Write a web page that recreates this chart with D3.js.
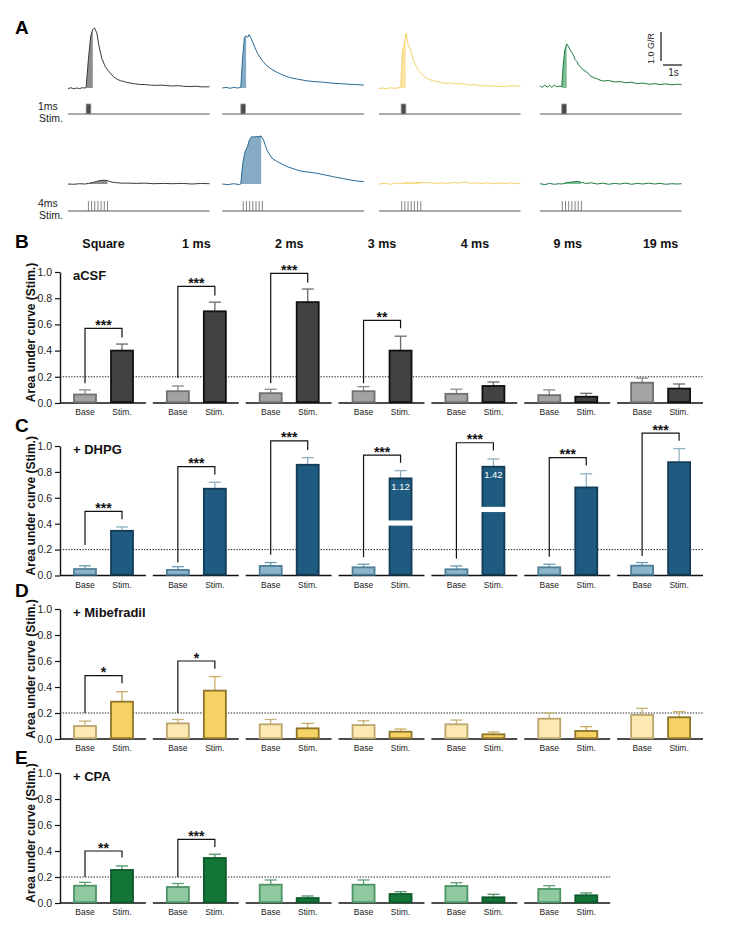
<!DOCTYPE html>
<html><head><meta charset="utf-8">
<script src="https://cdn.jsdelivr.net/npm/d3@7"></script>
<style>body{margin:0;background:#fff}svg text{font-family:"Liberation Sans",Arial,Helvetica,sans-serif}</style>
</head><body><svg id="fig" width="738" height="925"></svg>
<script>
// ---------------- DATA ----------------
const groups = ["Square","1 ms","2 ms","3 ms","4 ms","9 ms","19 ms"];
const barNames = ["Base","Stim."];
const yTicks = [0,0.2,0.4,0.6,0.8,1.0];
const conditions = ["aCSF","+ DHPG","+ Mibefradil","+ CPA"];
const panelLetters = ["B","C","D","E"];
const threshold = 0.2;

// aCSF
const acsfBase    = [0.065,0.09,0.075,0.09,0.07,0.06,0.155];
const acsfBaseSem = [0.035,0.04,0.03,0.035,0.035,0.04,0.035];
const acsfStim    = [0.40,0.70,0.77,0.40,0.13,0.048,0.11];
const acsfStimSem = [0.05,0.07,0.10,0.11,0.03,0.026,0.035];
const acsfSigGroup = [0,1,2,3];
const acsfSigLabel = ["***","***","***","**"];
const acsfSigTop   = [0.57,0.89,0.99,0.63];
const acsfSigRight = [0.50,0.82,0.92,0.57];
const acsfSigLeft  = [0.15,0.19,0.15,0.15];

// + DHPG
const dhpgBase    = [0.05,0.043,0.074,0.063,0.048,0.063,0.076];
const dhpgBaseSem = [0.025,0.025,0.026,0.024,0.026,0.024,0.024];
const dhpgStim    = [0.345,0.67,0.855,1.12,1.42,0.68,0.875];
const dhpgStimSem = [0.03,0.05,0.055,0.06,0.06,0.105,0.105];
// broken-axis bars: drawn height, and the gap of the break
const dhpgShown   = [null,null,null,0.75,0.84,null,null];
const dhpgBreakLo = [null,null,null,0.385,0.49,null,null];
const dhpgBreakHi = [null,null,null,0.425,0.53,null,null];
const dhpgSigGroup = [0,1,2,3,4,5,6];
const dhpgSigLabel = ["***","***","***","***","***","***","***"];
const dhpgSigTop   = [0.495,0.84,1.04,0.93,1.025,0.91,1.10];
const dhpgSigRight = [0.435,0.78,0.97,0.87,0.965,0.85,1.04];
const dhpgSigLeft  = [0.235,0.10,0.16,0.14,0.13,0.145,0.15];

// + Mibefradil
const mibBase    = [0.10,0.12,0.113,0.107,0.113,0.156,0.185];
const mibBaseSem = [0.038,0.03,0.037,0.033,0.033,0.044,0.051];
const mibStim    = [0.287,0.372,0.082,0.056,0.036,0.062,0.167];
const mibStimSem = [0.077,0.108,0.038,0.021,0.018,0.033,0.043];
const mibSigGroup = [0,1];
const mibSigLabel = ["*","*"];
const mibSigTop   = [0.487,0.60];
const mibSigRight = [0.428,0.54];
const mibSigLeft  = [0.20,0.20];

// + CPA (no 19 ms)
const cpaBase    = [0.133,0.123,0.141,0.141,0.131,0.108];
const cpaBaseSem = [0.026,0.027,0.036,0.036,0.025,0.025];
const cpaStim    = [0.254,0.346,0.038,0.069,0.044,0.059];
const cpaStimSem = [0.031,0.029,0.016,0.018,0.023,0.018];
const cpaSigGroup = [0,1];
const cpaSigLabel = ["**","***"];
const cpaSigTop   = [0.40,0.49];
const cpaSigRight = [0.35,0.43];
const cpaSigLeft  = [0.20,0.20];

// Panel A traces: [time (s), G/R]
const stimLabels = ["1ms","4ms"];
const trace1msACSF = [[0,-0.02],[0.15,0.01],[0.3,-0.03],[0.45,0.0],[0.6,-0.02],[0.75,0.01],[0.9,0.0],[0.95,0.02],[1.07,0.98],[1.19,1.78],[1.30,2.02],[1.39,2.07],[1.51,1.90],[1.63,1.43],[1.77,1.03],[1.95,0.74],[2.08,0.62],[2.21,0.52],[2.4,0.38],[2.56,0.31],[2.75,0.25],[2.91,0.23],[3.1,0.19],[3.44,0.15],[3.8,0.12],[4.0,0.12],[4.32,0.10],[4.6,0.09],[4.9,0.1],[5.2,0.08],[5.5,0.07],[5.8,0.08],[6.07,0.06],[6.4,0.05],[6.7,0.06],[7.0,0.04],[7.42,0.04]];
const trace1msDHPG = [[0,0.0],[0.2,0.02],[0.4,-0.01],[0.6,0.02],[0.8,0.0],[0.97,0.02],[1.05,0.9],[1.16,1.75],[1.25,1.80],[1.33,1.74],[1.40,1.84],[1.52,1.70],[1.70,1.41],[1.83,1.22],[1.96,1.07],[2.13,0.92],[2.31,0.78],[2.55,0.66],[2.84,0.55],[3.2,0.44],[3.54,0.36],[3.9,0.31],[4.42,0.25],[4.8,0.22],[5.3,0.20],[5.7,0.17],[6.17,0.15],[6.6,0.13],[7.0,0.12],[7.42,0.10]];
const trace1msMib = [[0,-0.02],[0.2,0.0],[0.4,-0.03],[0.6,0.01],[0.8,-0.01],[1.0,0.0],[1.14,0.03],[1.23,1.29],[1.32,1.45],[1.42,1.90],[1.54,1.45],[1.61,1.38],[1.67,1.29],[1.81,0.94],[1.93,0.78],[2.07,0.60],[2.25,0.47],[2.42,0.37],[2.6,0.30],[2.86,0.25],[3.1,0.22],[3.39,0.16],[3.7,0.17],[4.09,0.14],[4.4,0.15],[4.7,0.10],[5.0,0.12],[5.4,0.07],[5.8,0.08],[6.2,0.06],[6.6,0.05],[7.0,0.08],[7.42,0.06]];
const trace1msCPA = [[0,0.08],[0.12,0.02],[0.25,0.1],[0.38,0.03],[0.5,0.09],[0.62,0.02],[0.75,0.1],[0.88,0.04],[1.0,0.06],[1.14,0.05],[1.22,0.8],[1.30,1.3],[1.40,1.52],[1.50,1.42],[1.58,1.32],[1.67,1.22],[1.75,1.14],[1.84,0.98],[1.93,0.92],[2.02,0.8],[2.1,0.74],[2.2,0.66],[2.28,0.62],[2.45,0.55],[2.63,0.42],[2.8,0.36],[2.98,0.32],[3.15,0.27],[3.33,0.24],[3.6,0.26],[3.9,0.21],[4.2,0.22],[4.5,0.18],[4.8,0.20],[5.1,0.15],[5.4,0.17],[5.7,0.13],[6.0,0.15],[6.3,0.12],[6.6,0.14],[6.9,0.11],[7.2,0.13],[7.42,0.12]];
const trace4msACSF = [[0,0],[0.3,-0.01],[0.6,0.01],[0.9,0.0],[1.07,0.02],[1.3,0.05],[1.5,0.09],[1.7,0.12],[1.9,0.13],[2.07,0.12],[2.2,0.08],[2.45,0.05],[2.8,0.03],[3.2,0.03],[3.6,0.02],[4.0,0.03],[4.5,0.01],[5.0,0.02],[5.5,0.01],[6.0,0.02],[6.5,0.0],[7.0,0.02],[7.42,0.01]];
const trace4msDHPG = [[0,0.0],[0.3,-0.02],[0.6,0.01],[0.9,-0.02],[0.97,0.0],[1.07,0.71],[1.19,1.11],[1.32,1.29],[1.42,1.52],[1.54,1.63],[1.67,1.62],[1.80,1.64],[1.92,1.63],[2.03,1.66],[2.16,1.52],[2.34,1.17],[2.6,0.89],[2.86,0.78],[3.1,0.7],[3.39,0.60],[3.8,0.51],[4.09,0.45],[4.5,0.41],[4.97,0.37],[5.4,0.31],[5.84,0.25],[6.3,0.19],[6.72,0.14],[7.1,0.1],[7.42,0.08]];
const trace4msMib = [[0,0.0],[0.3,0.02],[0.6,-0.01],[0.9,0.03],[1.2,0.02],[1.5,0.05],[1.8,0.03],[2.1,0.06],[2.4,0.04],[2.7,0.05],[3.0,0.02],[3.3,0.04],[3.6,0.02],[3.9,0.05],[4.2,0.03],[4.5,0.07],[4.8,0.02],[5.1,0.04],[5.4,0.02],[5.7,0.04],[6.0,0.01],[6.3,0.03],[6.6,0.02],[6.9,0.04],[7.2,0.01],[7.42,0.02]];
const trace4msCPA = [[0,0.01],[0.25,-0.02],[0.5,0.02],[0.75,-0.01],[1.0,0.01],[1.17,0.0],[1.4,0.05],[1.7,0.07],[1.95,0.09],[2.16,0.06],[2.4,0.02],[2.7,0.04],[3.0,0.0],[3.3,0.03],[3.6,-0.01],[3.9,0.02],[4.2,0.0],[4.5,0.03],[4.8,-0.01],[5.1,0.02],[5.4,0.0],[5.7,0.03],[6.0,0.0],[6.3,0.02],[6.6,-0.01],[6.9,0.01],[7.2,0.0],[7.42,0.01]];
const stimOnset1ms = [0.95,0.97,1.16,1.14];
const pulseDuration1ms = 0.25;
const stimOnset4ms = [1.07,1.10,1.19,1.17];
const trainOffsets = [0,0.167,0.333,0.5,0.667,0.833,1.0];
const fillWindow1ms = [[0.95,1.30],[0.97,1.25],[1.14,1.40],[1.14,1.40]];
const fillWindow4ms = [[0.95,2.07],[0.97,2.04],[1.19,2.19],[1.17,2.16]];
const traceDuration = 7.42;

// ---------------- LAYOUT / STYLE ----------------
const svg = d3.select("#fig");
const FONT = '"Liberation Sans",Arial,Helvetica,sans-serif';

const panels = [
  {letter:panelLetters[0], name:conditions[0], base:acsfBase, baseSem:acsfBaseSem, stim:acsfStim, stimSem:acsfStimSem,
   sg:acsfSigGroup, sl:acsfSigLabel, st:acsfSigTop, sr:acsfSigRight, sle:acsfSigLeft,
   top:272, zero:403, letterY:248,
   col:{bf:"#a3a3a3", bs:"#707070", be:"#8a8a8a", sf:"#424242", ss:"#111111", se:"#6a6a6a"}},
  {letter:panelLetters[1], name:conditions[1], base:dhpgBase, baseSem:dhpgBaseSem, stim:dhpgStim, stimSem:dhpgStimSem,
   shown:dhpgShown, bLo:dhpgBreakLo, bHi:dhpgBreakHi,
   sg:dhpgSigGroup, sl:dhpgSigLabel, st:dhpgSigTop, sr:dhpgSigRight, sle:dhpgSigLeft,
   top:446, zero:575.5, letterY:432,
   col:{bf:"#8cb5cc", bs:"#4e7f99", be:"#6d99b2", sf:"#1f5a80", ss:"#123c58", se:"#8fb0c0"}},
  {letter:panelLetters[2], name:conditions[2], base:mibBase, baseSem:mibBaseSem, stim:mibStim, stimSem:mibStimSem,
   sg:mibSigGroup, sl:mibSigLabel, st:mibSigTop, sr:mibSigRight, sle:mibSigLeft,
   top:609, zero:739, letterY:597,
   col:{bf:"#fce9b2", bs:"#bca46c", be:"#c9b27a", sf:"#f6d265", ss:"#8f7428", se:"#c9ad62"}},
  {letter:panelLetters[3], name:conditions[3], base:cpaBase, baseSem:cpaBaseSem, stim:cpaStim, stimSem:cpaStimSem,
   sg:cpaSigGroup, sl:cpaSigLabel, st:cpaSigTop, sr:cpaSigRight, sle:cpaSigLeft,
   top:773, zero:903, letterY:764,
   col:{bf:"#90c9a0", bs:"#4d9466", be:"#5e9f74", sf:"#137538", ss:"#0d5a2a", se:"#4d9466"}}
];

const gx = d3.scaleBand().domain(groups).range([60,703]).paddingInner(0.075);
const ix = d3.scaleBand().domain(barNames).range([14,73]).paddingInner(15/37).paddingOuter(0);
const bw = ix.bandwidth();
const cx = (gi,bi) => gx(groups[gi]) + ix(barNames[bi]) + bw/2;

// column headers
svg.append("g").selectAll("text").data(groups).join("text")
  .attr("x", (d,i)=> (cx(i,0)+cx(i,1))/2).attr("y",248)
  .attr("text-anchor","middle").attr("font-weight","bold").attr("font-size",12.5).attr("fill","#111")
  .text(d=>d);

panels.forEach(p=>{
  const g = svg.append("g");
  const y = d3.scaleLinear().domain([0,1]).range([p.zero,p.top]);
  const n = p.base.length;

  g.append("text").attr("x",15).attr("y",p.letterY).attr("font-weight","bold").attr("font-size",19).attr("fill","#000").text(p.letter);
  g.append("text").attr("x",73).attr("y",p.top+7.5).attr("font-weight","bold").attr("font-size",13).attr("fill","#111").text(p.name);
  g.append("text").attr("transform",`translate(35,${(p.top+p.zero)/2-5}) rotate(-90)`)
    .attr("text-anchor","middle").attr("font-weight","bold").attr("font-size",12).attr("fill","#111")
    .text("Area under curve (Stim.)");

  const ax = g.append("g").attr("transform","translate(60,0)")
    .call(d3.axisLeft(y).tickValues(yTicks).tickFormat(d3.format(".1f")).tickSize(5).tickSizeOuter(0).tickPadding(3));
  ax.select(".domain").attr("stroke","#111").attr("stroke-width",1.4);
  ax.selectAll(".tick line").attr("stroke","#111").attr("stroke-width",1.2);
  ax.selectAll(".tick text").attr("font-size",10.5).attr("fill","#222").attr("font-family",FONT);

  const lastG = groups[n-1];
  g.append("line").attr("x1",60).attr("x2",gx(lastG)+gx.bandwidth()).attr("y1",y(threshold)).attr("y2",y(threshold))
    .attr("stroke","#222").attr("stroke-width",1).attr("stroke-dasharray","1.4,1.4");

  for(let gi=0; gi<n; gi++){
    const gStart = gx(groups[gi]);
    g.append("line").attr("x1",gStart).attr("x2",gStart+gx.bandwidth()).attr("y1",y(0)).attr("y2",y(0))
      .attr("stroke","#111").attr("stroke-width",1.6);
    [0,1].forEach(bi=>{
      const isStim = bi===1;
      const val = isStim ? p.stim[gi] : p.base[gi];
      const shown = (isStim && p.shown && p.shown[gi]!=null) ? p.shown[gi] : val;
      const sem = isStim ? p.stimSem[gi] : p.baseSem[gi];
      const x0 = gStart + ix(barNames[bi]);
      const fill = isStim ? p.col.sf : p.col.bf, stroke = isStim ? p.col.ss : p.col.bs, ec = isStim ? p.col.se : p.col.be;
      g.append("line").attr("x1",x0+bw/2).attr("x2",x0+bw/2).attr("y1",y(shown)).attr("y2",y(shown+sem))
        .attr("stroke",ec).attr("stroke-width",1.3);
      g.append("line").attr("x1",x0+bw/2-6).attr("x2",x0+bw/2+6).attr("y1",y(shown+sem)).attr("y2",y(shown+sem))
        .attr("stroke",ec).attr("stroke-width",1.3);
      g.append("rect").attr("x",x0).attr("y",y(shown)).attr("width",bw).attr("height",y(0)-y(shown)-0.8)
        .attr("fill",fill).attr("stroke",stroke).attr("stroke-width",1.8);
      if(isStim && p.shown && p.shown[gi]!=null){
        g.append("rect").attr("x",x0-2).attr("y",y(p.bHi[gi])).attr("width",bw+4).attr("height",y(p.bLo[gi])-y(p.bHi[gi]))
          .attr("fill","#fff");
        g.append("text").attr("x",x0+bw/2).attr("y",y(shown)+11.5).attr("text-anchor","middle")
          .attr("font-size",9.5).attr("fill","#fff").text(d3.format(".2f")(val));
      }
      g.append("text").attr("x",x0+bw/2).attr("y",y(0)+12).attr("text-anchor","middle")
        .attr("font-size",8.5).attr("fill","#222").text(barNames[bi]);
    });
  }

  p.sg.forEach((gi,k)=>{
    const bx = cx(gi,0), sx = cx(gi,1);
    g.append("path").attr("d",`M${bx},${y(p.sle[k])}V${y(p.st[k])}H${sx}V${y(p.sr[k])}`)
      .attr("fill","none").attr("stroke","#111").attr("stroke-width",1.2);
    g.append("text").attr("x",(bx+sx)/2).attr("y",y(p.st[k])+1.5).attr("text-anchor","middle")
      .attr("font-weight","bold").attr("font-size",14).attr("fill","#111").text(p.sl[k]);
  });
});

// ---------------- PANEL A ----------------
const A = svg.append("g");
A.append("text").attr("x",15).attr("y",34).attr("font-weight","bold").attr("font-size",19).attr("fill","#000").text("A");
const colStarts = [68,222.3,379,540];
const colW = 141.5;
const rowBase = [88,184];
const stimLineY = [114,211];
const unitPx = 29;
const traceCols = ["#3a3a3a","#2b6a94","#f4d26a","#1f7a40"];
const fillCols  = ["#8e8e8e","#86abc4","#fbe3a3","#7cbd92"];
const rows = [[trace1msACSF,trace1msDHPG,trace1msMib,trace1msCPA],[trace4msACSF,trace4msDHPG,trace4msMib,trace4msCPA]];
const fills = [fillWindow1ms, fillWindow4ms];
const defs = svg.append("defs");

rows.forEach((traces,ri)=>{
  const yv = d3.scaleLinear().domain([0,1]).range([rowBase[ri], rowBase[ri]-unitPx]);
  traces.forEach((tr,ci)=>{
    const xt = d3.scaleLinear().domain([0,traceDuration]).range([colStarts[ci], colStarts[ci]+colW]);
    const id = `clip${ri}${ci}`;
    const fw = fills[ri][ci];
    defs.append("clipPath").attr("id",id).append("rect")
      .attr("x",xt(fw[0])).attr("width",xt(fw[1])-xt(fw[0])).attr("y",0).attr("height",925);
    A.append("path").datum(tr).attr("clip-path",`url(#${id})`)
      .attr("d",d3.area().x(d=>xt(d[0])).y0(yv(0)).y1(d=>yv(d[1])))
      .attr("fill",fillCols[ci]).attr("stroke","none");
    A.append("path").datum(tr)
      .attr("d",d3.line().x(d=>xt(d[0])).y(d=>yv(d[1])))
      .attr("fill","none").attr("stroke",traceCols[ci]).attr("stroke-width",1).attr("stroke-linejoin","round");
    A.append("line").attr("x1",xt(0)).attr("x2",xt(traceDuration)).attr("y1",stimLineY[ri]).attr("y2",stimLineY[ri])
      .attr("stroke","#555").attr("stroke-width",1);
    if(ri===0){
      A.append("rect").attr("x",xt(stimOnset1ms[ci])).attr("y",stimLineY[ri]-10)
        .attr("width",xt(stimOnset1ms[ci]+pulseDuration1ms)-xt(stimOnset1ms[ci])).attr("height",10)
        .attr("fill","#4a4a4a").attr("stroke","#9a9a9a").attr("stroke-width",0.8);
    } else {
      trainOffsets.forEach(o=>{
        const xx = xt(stimOnset4ms[ci]+o);
        A.append("line").attr("x1",xx).attr("x2",xx).attr("y1",stimLineY[ri]-10).attr("y2",stimLineY[ri])
          .attr("stroke","#666").attr("stroke-width",0.8);
      });
    }
  });
  A.append("text").attr("x",38).attr("y",stimLineY[ri]-4.5).attr("font-size",10.5).attr("fill","#222").text(stimLabels[ri]);
  A.append("text").attr("x",39).attr("y",stimLineY[ri]+7.5).attr("font-size",10.5).attr("fill","#222").text("Stim.");
});

// scale bar
const sbX = d3.scaleLinear().domain([0,traceDuration]).range([663, 663+colW]);
const sbY = d3.scaleLinear().domain([0,1]).range([61, 61-unitPx]);
A.append("line").attr("x1",661).attr("x2",661).attr("y1",sbY(0)).attr("y2",sbY(1)).attr("stroke","#111").attr("stroke-width",1.2);
A.append("line").attr("x1",sbX(0)).attr("x2",sbX(1)).attr("y1",65).attr("y2",65).attr("stroke","#111").attr("stroke-width",1.2);
A.append("text").attr("transform",`translate(654,${(sbY(0)+sbY(1))/2+2}) rotate(-90)`).attr("text-anchor","middle")
  .attr("font-size",9).attr("fill","#222").text("1.0 G/R");
A.append("text").attr("x",(sbX(0)+sbX(1))/2+1).attr("y",76).attr("text-anchor","middle")
  .attr("font-size",10).attr("fill","#222").text("1s");
</script></body></html>
